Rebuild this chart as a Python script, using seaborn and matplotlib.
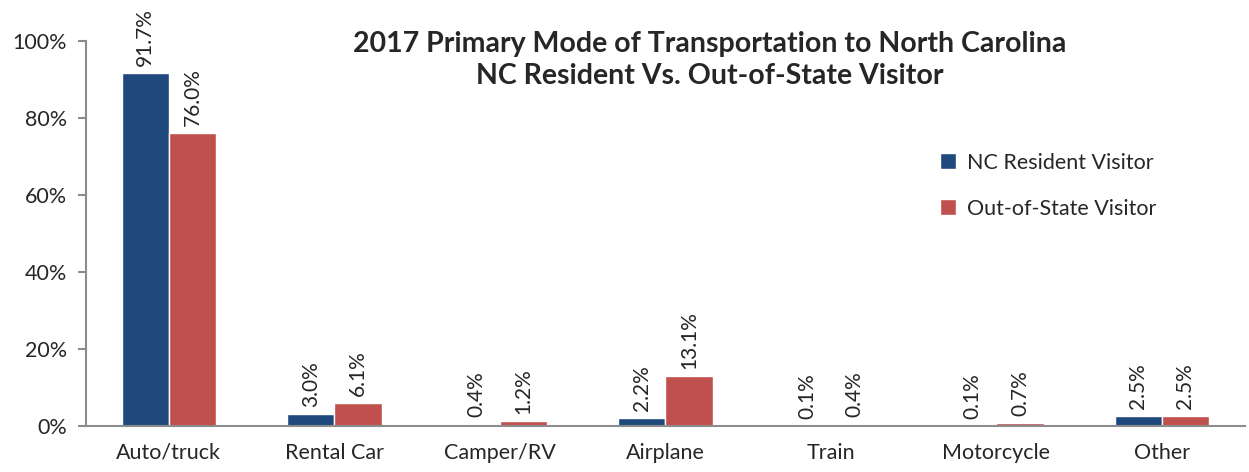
import pandas as pd
import matplotlib.pyplot as plt
import seaborn as sns
from matplotlib.ticker import PercentFormatter

modes = ["Auto/truck", "Rental Car", "Camper/RV", "Airplane", "Train", "Motorcycle", "Other"]
nc_resident = [91.7, 3.0, 0.4, 2.2, 0.1, 0.1, 2.5]
out_of_state = [76.0, 6.1, 1.2, 13.1, 0.4, 0.7, 2.5]
series = ["NC Resident Visitor", "Out-of-State Visitor"]
colors = ["#1F497D", "#C0504D"]

df = pd.DataFrame({
    'Mode': modes * 2,
    'Share': nc_resident + out_of_state,
    'Visitor': [series[0]] * len(modes) + [series[1]] * len(modes)
})

sns.set_style("white")
plt.rcParams['font.family'] = ['Lato', 'DejaVu Sans']

fig = plt.figure(figsize=(12.49, 4.72), dpi=100)
ax = fig.add_axes([0.069, 0.0975, 0.9275, 0.8155])
sns.barplot(x='Mode', y='Share', hue='Visitor', data=df, palette=colors,
            width=0.57, saturation=1, ax=ax)

for cont in ax.containers:
    ax.bar_label(cont, labels=[f"{v:.1f}%" for v in cont.datavalues],
                 rotation=90, padding=5, fontsize=15)

ax.set_ylim(0, 100)
ax.set_xlim(-0.5, len(modes) - 0.5)
ax.set_yticks(range(0, 101, 20))
ax.yaxis.set_major_formatter(PercentFormatter(decimals=0))
ax.set_xticks(range(len(modes)))
ax.set_xticklabels(modes)
ax.set_xticks([i - 0.5 for i in range(len(modes) + 1)], minor=True)
ax.tick_params(axis='x', which='major', length=0, pad=12, labelsize=15.5)
ax.tick_params(axis='x', which='minor', length=6, width=1.5, color='#8c8c8c', direction='out')
ax.tick_params(axis='y', length=6, width=1.5, color='#8c8c8c', direction='out', labelsize=15.5, left=True, pad=8)
ax.set_xlabel('')
ax.set_ylabel('')
sns.despine(ax=ax, top=True, right=True)
for s in ['left', 'bottom']:
    ax.spines[s].set_color('#8c8c8c')
    ax.spines[s].set_linewidth(1.5)

ax.legend(title=None, frameon=False, loc='upper left', bbox_to_anchor=(0.72, 0.76),
          fontsize=15.5, handlelength=0.75, handleheight=0.75, labelspacing=1.2, handletextpad=0.5)

fig.text(0.568, 0.935, "2017 Primary Mode of Transportation to North Carolina\nNC Resident Vs. Out-of-State Visitor",
         ha='center', va='top', fontsize=20.5, fontweight='bold', linespacing=1.3)

fig.savefig('out.png', dpi=100)
